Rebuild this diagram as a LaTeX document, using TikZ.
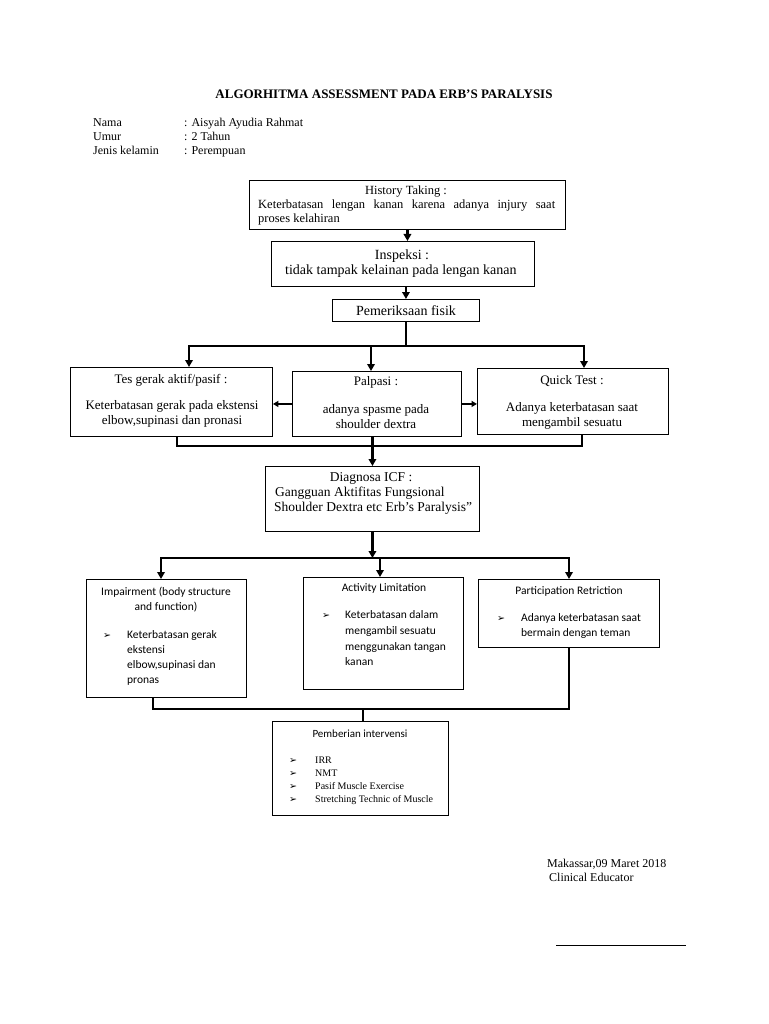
\documentclass[tikz,border=0pt]{standalone}
\usepackage{fontspec}
\setmainfont{Liberation Serif}
\newfontfamily\calfont{Carlito}
\newfontfamily\dvfont{DejaVu Sans}
\usetikzlibrary{arrows.meta}
\newcommand\setfs[1]{\fontsize{#1}{#1}\selectfont}
\newcommand\bul{{\dvfont\setfs{9.5}➢}}
\begin{document}
\begin{tikzpicture}[x=1pt,y=-1pt,
  box/.style={draw, line width=0.9pt, inner sep=0pt, anchor=north west},
  txt/.style={inner sep=0pt, anchor=mid, yshift=-2pt},
  ltxt/.style={inner sep=0pt, anchor=mid west, yshift=-2pt},
  ln/.style={line width=2.4pt, line cap=rect},
  thinln/.style={line width=1.8pt},
  arr/.style={line width=2.4pt, -{Triangle[length=7pt,width=7.5pt]}},
  sarr/.style={line width=1.8pt, -{Triangle[length=5.5pt,width=6pt]}},
  tw/.style={font=\setfs{12}},
  th/.style={font=\setfs{12.5}},
  tb/.style={font=\setfs{13}},
  tl/.style={font=\setfs{14}, yshift=-1pt},
  tc/.style={font=\calfont\setfs{11.5}},
  ts/.style={font=\setfs{10}}
]
\fill[white] (0,0) rectangle (768,1024);
\useasboundingbox (0,0) rectangle (768,1024);

% header
\node[txt, font=\bfseries\setfs{13}] (title) at (384,94) {ALGORHITMA ASSESSMENT PADA ERB'S PARALYSIS};
\node[ltxt, tw] (k1) at (93,122) {Nama};
\node[ltxt, tw] (v1) at (184,122) {: Aisyah Ayudia Rahmat};
\node[ltxt, tw] (k2) at (93,136) {Umur};
\node[ltxt, tw] (v2) at (184,136) {: 2 Tahun};
\node[ltxt, tw] (k3) at (93,150) {Jenis kelamin};
\node[ltxt, tw] (v3) at (184,150) {: Perempuan};

% boxes
\node[box, minimum width=316pt, minimum height=49pt] (hist) at (249,180) {};
\node[box, minimum width=263pt, minimum height=45pt] (insp) at (271,241) {};
\node[box, minimum width=147pt, minimum height=22pt] (pem) at (332,299) {};
\node[box, minimum width=202pt, minimum height=69pt] (tes) at (70,367) {};
\node[box, minimum width=169pt, minimum height=65pt] (palp) at (292,371) {};
\node[box, minimum width=191pt, minimum height=66pt] (quick) at (477,368) {};
\node[box, minimum width=214pt, minimum height=65pt] (diag) at (265,466) {};
\node[box, minimum width=160pt, minimum height=118pt] (imp) at (86,579) {};
\node[box, minimum width=160pt, minimum height=112pt] (act) at (303,577) {};
\node[box, minimum width=181pt, minimum height=68pt] (part) at (478,579) {};
\node[box, minimum width=176pt, minimum height=94pt] (interv) at (272,721) {};

% history taking
\node[txt, th] (h1) at (406,190) {History Taking :};
\node[ltxt, th] (h2) at (258,204) {\makebox[297pt][s]{Keterbatasan lengan kanan karena adanya injury saat}};
\node[ltxt, th] (h3) at (258,218) {proses kelahiran};

% inspeksi
\node[txt, tl] (i1) at (402,254) {Inspeksi :};
\node[ltxt, tl] (i2) at (285,269) {tidak tampak kelainan pada lengan kanan};

% pemeriksaan
\node[txt, tl] (p1) at (406,310) {Pemeriksaan fisik};

% tes
\node[txt, tb] (t1) at (171,379) {Tes gerak aktif/pasif :};
\node[txt, tb] (t2) at (172,405) {Keterbatasan gerak pada ekstensi};
\node[txt, tb] (t3) at (172,420) {elbow,supinasi dan pronasi};
% palpasi
\node[txt, tb] (pa1) at (376,381) {Palpasi :};
\node[txt, tb] (pa2) at (376,409) {adanya spasme pada};
\node[txt, tb] (pa3) at (376,424) {shoulder dextra};
% quick
\node[txt, tb] (q1) at (572,380) {Quick Test :};
\node[txt, tb] (q2) at (572,407) {Adanya keterbatasan saat};
\node[txt, tb] (q3) at (572,422) {mengambil sesuatu};

% diagnosa
\node[txt, font=\setfs{13.5}] (d1) at (371,477) {Diagnosa ICF :};
\node[ltxt, font=\setfs{13.5}] (d2) at (275,492) {Gangguan Aktifitas Fungsional};
\node[ltxt, font=\setfs{13.5}] (d3) at (274,507) {Shoulder Dextra etc Erb's Paralysis”};

% impairment
\node[txt, tc] (m1) at (166,591) {Impairment (body structure};
\node[txt, tc] (m2) at (166,606) {and function)};
\node[txt] (mb) at (107,634) {\bul};
\node[ltxt, tc] (m3) at (127,634) {Keterbatasan gerak};
\node[ltxt, tc] (m4) at (127,649) {ekstensi};
\node[ltxt, tc] (m5) at (127,664) {elbow,supinasi dan};
\node[ltxt, tc] (m6) at (127,679) {pronas};
% activity
\node[txt, tc] (a1) at (384,587) {Activity Limitation};
\node[txt] (ab) at (326,614) {\bul};
\node[ltxt, tc] (a2) at (345,614) {Keterbatasan dalam};
\node[ltxt, tc] (a3) at (345,630) {mengambil sesuatu};
\node[ltxt, tc] (a4) at (345,646) {menggunakan tangan};
\node[ltxt, tc] (a5) at (345,661) {kanan};
% participation
\node[txt, tc] (r1) at (569,590) {Participation Retriction};
\node[txt] (rb) at (501,617) {\bul};
\node[ltxt, tc] (r2) at (521,617) {Adanya keterbatasan saat};
\node[ltxt, tc] (r3) at (521,632) {bermain dengan teman};

% intervensi
\node[txt, font=\calfont\setfs{11}] (e0) at (360,733) {Pemberian intervensi};
\node[txt] (eb1) at (293,759) {\bul};
\node[txt] (eb2) at (293,772) {\bul};
\node[txt] (eb3) at (293,785) {\bul};
\node[txt] (eb4) at (293,798) {\bul};
\node[ltxt, ts] (e1) at (315,759) {IRR};
\node[ltxt, ts] (e2) at (315,772) {NMT};
\node[ltxt, ts] (e3) at (315,785) {Pasif Muscle Exercise};
\node[ltxt, ts] (e4) at (315,798) {Stretching Technic of Muscle};

% signature
\node[ltxt, tw] (s1) at (547,863) {Makassar,09 Maret 2018};
\node[ltxt, tw] (s2) at (549,877) {Clinical Educator};
\coordinate (sl) at (556,945);
\coordinate (sr) at (686,945);
\draw[line width=0.9pt] (sl) -- (sr);

% connectors top
\draw[arr] (hist.south) -- (hist.south |- insp.north);
\draw[arr] (pem.north |- insp.south) -- (pem.north);
\coordinate (bl) at (189,346);
\coordinate (bm) at (371,346);
\coordinate (br) at (584,346);
\draw[ln] (pem.south) -- (pem.south |- bm);
\draw[ln] (bl) -- (br);
\draw[arr] (bl) -- (bl |- tes.north);
\draw[arr] (bm) -- (bm |- palp.north);
\draw[arr] (br) -- (br |- quick.north);
\draw[sarr] (palp.west) -- (palp.west -| tes.east);
\draw[sarr] (palp.east) -- (palp.east -| quick.west);

% collect to diagnosa
\coordinate (cl) at (177,446);
\coordinate (cr) at (582,446);
\draw[ln] (cl |- tes.south) -- (cl) -- (cr) -- (cr |- quick.south);
\draw[arr] (diag.north |- palp.south) -- (diag.north);

% diagnosa to ICF boxes
\coordinate (dl) at (161,558);
\coordinate (dm) at (380,558);
\coordinate (dr) at (569,558);
\draw[arr] (diag.south) -- (diag.south |- dm);
\draw[ln] (dl) -- (dr);
\draw[arr] (dl) -- (dl |- imp.north);
\draw[arr] (dm) -- (dm |- act.north);
\draw[arr] (dr) -- (dr |- part.north);

% collect to intervensi
\coordinate (el) at (153,709);
\coordinate (em) at (363,709);
\coordinate (er) at (569,709);
\draw[ln] (el |- imp.south) -- (el) -- (er) -- (er |- part.south);
\draw[thinln] (em) -- (em |- interv.north);
\end{tikzpicture}
\end{document}
